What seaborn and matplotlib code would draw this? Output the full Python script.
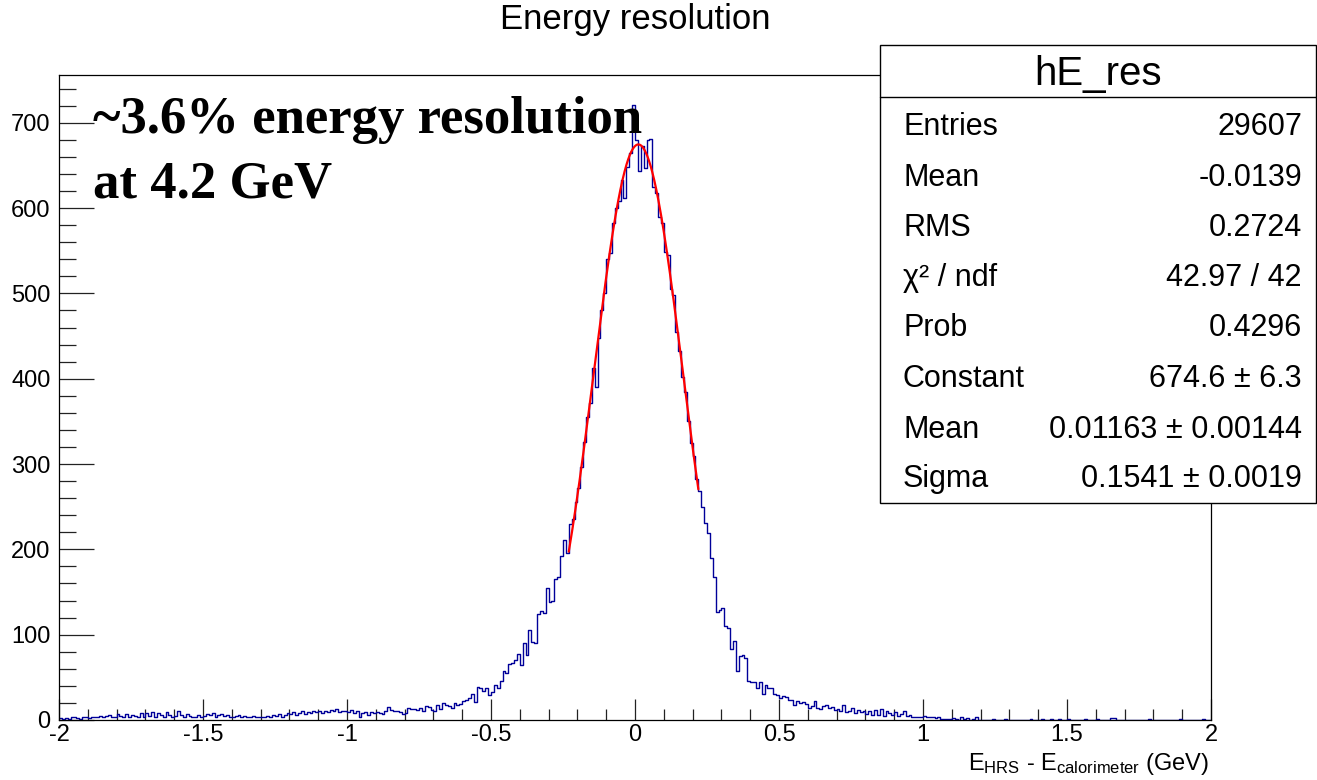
import numpy as np
import pandas as pd
import matplotlib
matplotlib.use("Agg")
import matplotlib.pyplot as plt
import seaborn as sns
from matplotlib.patches import Rectangle
from matplotlib.lines import Line2D
from matplotlib.ticker import MultipleLocator, FuncFormatter

# Histogram binning: 400 bins of 0.01 GeV from -2 to 2
x_min, x_max, n_bins = -2.0, 2.0, 400

# Bin contents, grouped by region (left edge of each group in the comment)
counts_far_left = [            # -2.0 .. -1.0
    2, 1, 2, 1, 3, 3, 2, 1, 4, 3,
    2, 4, 4, 3, 5, 4, 5, 6, 3, 4,
    7, 5, 4, 7, 3, 6, 5, 4, 8, 3,
    8, 5, 9, 4, 8, 6, 3, 9, 6, 4,
    5, 11, 6, 4, 7, 5, 4, 3, 6, 4,
    5, 7, 6, 8, 3, 6, 7, 5, 6, 4,
    4, 5, 6, 4, 5, 3, 4, 5, 4, 3,
    4, 3, 5, 4, 6, 5, 7, 4, 6, 8,
    7, 9, 6, 8, 10, 7, 9, 8, 10, 9,
    11, 8, 10, 9, 12, 10, 13, 9, 11, 10,
]
counts_left = [                # -1.0 .. -0.3
    9, 12, 8, 10, 4, 8, 9, 6, 9, 8,
    9, 8, 7, 10, 15, 12, 10, 11, 9, 7,
    8, 14, 13, 13, 12, 14, 10, 16, 15, 12,
    10, 18, 13, 20, 18, 16, 14, 20, 17, 19,
    22, 24, 26, 30, 21, 39, 38, 34, 37, 29,
    33, 41, 37, 46, 58, 55, 66, 67, 70, 77,
    64, 90, 76, 106, 92, 90, 124, 128, 126, 155,
]
counts_core = [                # -0.3 .. 0.3
    138, 140, 165, 168, 192, 211, 196, 230, 236, 255,
    272, 297, 326, 355, 371, 412, 390, 448, 480, 500,
    540, 547, 582, 600, 608, 633, 612, 648, 665, 721,
    680, 643, 673, 647, 680, 681, 625, 618, 590, 583,
    548, 545, 505, 498, 455, 432, 402, 385, 350, 325,
    310, 283, 268, 250, 231, 219, 190, 168, 127, 129,
]
counts_right = [               # 0.3 .. 1.0
    131, 110, 108, 83, 93, 58, 75, 76, 73, 46,
    45, 44, 38, 44, 30, 41, 38, 37, 30, 29,
    26, 28, 27, 24, 23, 18, 22, 20, 21, 19,
    14, 16, 22, 14, 13, 16, 17, 14, 15, 12,
    13, 10, 17, 9, 11, 14, 8, 12, 9, 10,
    7, 11, 6, 12, 6, 13, 5, 10, 8, 6,
    9, 5, 7, 11, 5, 6, 4, 4, 3, 4,
]
counts_far_right = [           # 1.0 .. 2.0
    5, 3, 4, 3, 2, 3, 1, 1, 1, 1,
    2, 1, 0, 3, 1, 2, 0, 1, 3, 0,
    0, 0, 0, 0, 1, 0, 0, 0, 1, 0,
    0, 0, 0, 0, 0, 0, 0, 1, 0, 0,
    0, 1, 0, 0, 1, 0, 0, 1, 0, 0,
    1, 0, 0, 0, 0, 0, 1, 0, 0, 0,
    1, 0, 0, 0, 0, 2, 2, 0, 0, 0,
    0, 0, 0, 0, 0, 0, 0, 0, 1, 0,
    0, 0, 0, 0, 0, 0, 0, 0, 0, 1,
    0, 0, 0, 0, 0, 0, 0, 1, 0, 0,
]

# Gaussian fit result
fit_constant = 674.6
fit_mean = 0.01163
fit_sigma = 0.1541
fit_lo, fit_hi = -0.23, 0.22

# Statistics box
stats_title = "hE_res"
stats_labels = ["Entries", "Mean", "RMS", "\u03c7\u00b2 / ndf", "Prob",
                "Constant", "Mean", "Sigma"]
stats_values = ["29607", "-0.0139", "0.2724", "42.97 / 42", "0.4296",
                "674.6 \u00b1 6.3", "0.01163 \u00b1 0.00144", "0.1541 \u00b1 0.0019"]

title = "Energy resolution"
x_title = r"E$_{\mathregular{HRS}}$ - E$_{\mathregular{calorimeter}}$ (GeV)"
note_lines = ["~3.6% energy resolution", "at 4.2 GeV"]

# ---------------------------------------------------------------------------
counts = np.array(counts_far_left + counts_left + counts_core
                  + counts_right + counts_far_right, dtype=float)
bin_width = (x_max - x_min) / n_bins
centers = x_min + bin_width * (np.arange(n_bins) + 0.5)
hist_df = pd.DataFrame({"x": centers, "n": counts})

sns.set_theme(style="white")
plt.rcParams["font.family"] = ["Liberation Sans", "DejaVu Sans"]
plt.rcParams["axes.unicode_minus"] = False
plt.rcParams["mathtext.default"] = "regular"
plt.rcParams["text.color"] = "black"
plt.rcParams["xtick.color"] = "black"
plt.rcParams["ytick.color"] = "black"

W, H = 1317, 780
fig = plt.figure(figsize=(W / 100, H / 100), dpi=100)
fig.patch.set_facecolor("white")

ax_l, ax_r, ax_t, ax_b = 59, 1211, 75, 720
ax = fig.add_axes([ax_l / W, 1 - ax_b / H, (ax_r - ax_l) / W, (ax_b - ax_t) / H])
ax.set_facecolor("white")

sns.histplot(data=hist_df, x="x", weights="n", bins=n_bins,
             binrange=(x_min, x_max), element="step", fill=False,
             color="#000099", linewidth=1.0, ax=ax)

fit_x = np.linspace(fit_lo, fit_hi, 400)
fit_y = fit_constant * np.exp(-0.5 * ((fit_x - fit_mean) / fit_sigma) ** 2)
ax.plot(fit_x, fit_y, color="#ff0000", linewidth=1.6, zorder=4)

ax.set_xlim(x_min, x_max)
ax.set_ylim(0, 756)
ax.set_ylabel("")
ax.set_xlabel("")

ax.xaxis.set_major_locator(MultipleLocator(0.5))
ax.xaxis.set_minor_locator(MultipleLocator(0.1))
ax.yaxis.set_major_locator(MultipleLocator(100))
ax.yaxis.set_minor_locator(MultipleLocator(20))
ax.xaxis.set_major_formatter(FuncFormatter(lambda v, _: f"{v:g}"))
ax.yaxis.set_major_formatter(FuncFormatter(lambda v, _: f"{v:g}"))

ax.tick_params(axis="both", which="both", direction="in", color="#222222",
               width=0.9, top=False, right=False, labelsize=17,
               labelcolor="black")
ax.tick_params(axis="x", which="major", length=15, pad=3)
ax.tick_params(axis="x", which="minor", length=8)
ax.tick_params(axis="y", which="major", length=25, pad=6)
ax.tick_params(axis="y", which="minor", length=12.5)
ax.tick_params(axis="x", which="both", bottom=True)
ax.tick_params(axis="y", which="both", left=True)

for side in ax.spines.values():
    side.set_visible(True)
    side.set_color("black")
    side.set_linewidth(0.9)

# Titles
fig.text(635 / W, 1 - 20 / H, title, ha="center", va="center", fontsize=25,
         color="black")
fig.text(1209 / W, 1 - 770 / H, x_title, ha="right", va="baseline", fontsize=17,
         color="black")

# Note in the upper left
note_y = [133, 197]
for line, yb in zip(note_lines, note_y):
    fig.text(93 / W, 1 - yb / H, line, ha="left", va="baseline",
             fontsize=38, fontweight="bold", family="Liberation Serif",
             color="black", zorder=10)

# Statistics box
box_l, box_r, box_t, box_b, box_sep = 880, 1315.5, 45, 503, 96.7
fig.add_artist(Rectangle((box_l / W, 1 - box_b / H), (box_r - box_l) / W,
                         (box_b - box_t) / H, transform=fig.transFigure,
                         facecolor="white", edgecolor="black", linewidth=1.0,
                         zorder=5))
fig.add_artist(Line2D([box_l / W, box_r / W], [1 - box_sep / H, 1 - box_sep / H],
                      transform=fig.transFigure, color="black", linewidth=1.0,
                      zorder=6))
fig.text((box_l + box_r) / 2 / W, 1 - 85 / H, stats_title, ha="center",
         va="baseline", fontsize=29, color="black", zorder=7)
row_baselines = [135, 185.5, 236, 286, 336.5, 387, 437.5, 487]
for lab, val, yb in zip(stats_labels, stats_values, row_baselines):
    fig.text(903 / W, 1 - yb / H, lab, ha="left", va="baseline",
             fontsize=22, color="black", zorder=7)
    fig.text(1302 / W, 1 - yb / H, val, ha="right", va="baseline",
             fontsize=22, color="black", zorder=7)

fig.savefig("out.png", dpi=100, facecolor="white")
